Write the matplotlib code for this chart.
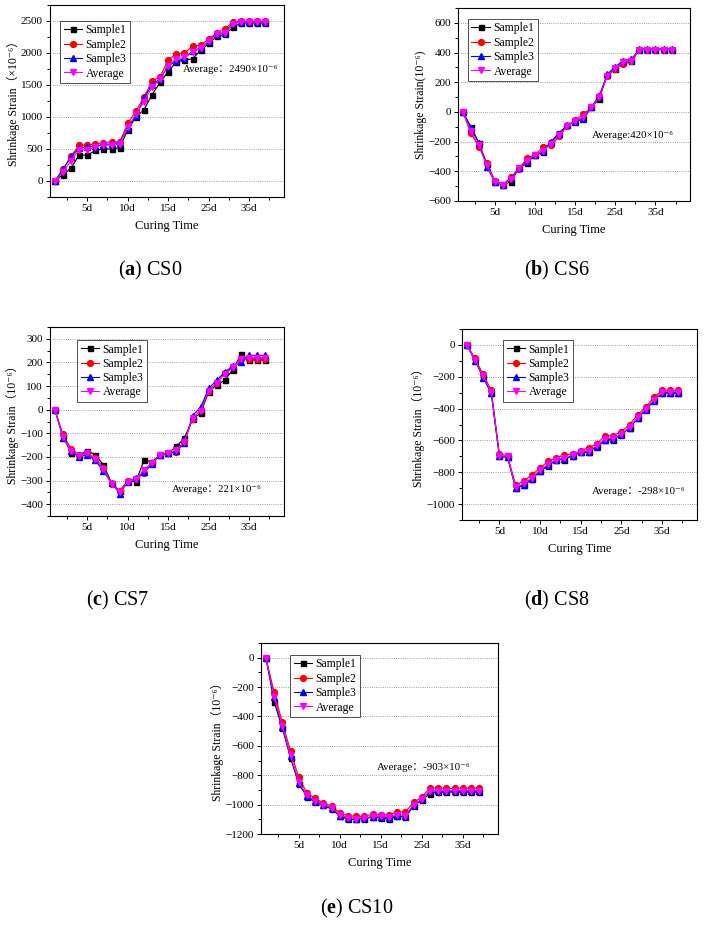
import numpy as np
import matplotlib.pyplot as plt
from matplotlib.ticker import MultipleLocator

plt.rcParams['font.family'] = ['Liberation Serif', 'Noto Sans CJK SC', 'DejaVu Sans']
plt.rcParams['mathtext.fontset'] = 'custom'
plt.rcParams['mathtext.rm'] = 'Liberation Serif'
plt.rcParams['mathtext.bf'] = 'Liberation Serif:bold'

#########################################################
# data (index 1..27 along curing time)
#########################################################
days = np.arange(1, 28)
tick_pos = [5, 10, 15, 20, 25]
tick_lab = ["5d", "10d", "15d", "25d", "35d"]

cs0_s1 = [0, 100, 200, 410, 400, 480, 500, 500, 520, 800, 1000, 1110, 1350, 1540, 1710, 1860, 1890, 1910, 2040, 2150, 2260, 2290, 2400, 2470, 2470, 2470, 2470]
cs0_s2 = [0, 180, 390, 560, 560, 580, 600, 610, 610, 900, 1090, 1310, 1560, 1630, 1890, 1990, 2000, 2110, 2120, 2220, 2310, 2380, 2480, 2500, 2500, 2500, 2500]
cs0_s3 = [0, 180, 380, 510, 530, 540, 570, 580, 600, 830, 1010, 1290, 1500, 1600, 1800, 1870, 1920, 2030, 2080, 2190, 2300, 2320, 2470, 2490, 2490, 2490, 2490]
cs0_av = [0, 140, 320, 490, 480, 530, 560, 560, 580, 840, 1040, 1240, 1470, 1590, 1800, 1910, 1930, 2010, 2080, 2190, 2290, 2310, 2450, 2490, 2490, 2490, 2490]

cs6_s1 = [0, -100, -210, -350, -470, -490, -470, -380, -345, -290, -270, -200, -140, -90, -60, -40, 30, 90, 250, 290, 340, 340, 420, 420, 420, 420, 420]
cs6_s2 = [0, -145, -235, -345, -465, -490, -440, -385, -310, -290, -235, -225, -165, -95, -55, -15, 30, 110, 240, 290, 320, 340, 420, 420, 420, 420, 420]
cs6_s3 = [0, -105, -210, -370, -475, -490, -445, -375, -330, -290, -260, -200, -150, -90, -65, -50, 30, 110, 255, 305, 345, 355, 425, 425, 425, 425, 425]
cs6_av = [0, -130, -225, -360, -470, -490, -450, -380, -330, -290, -260, -215, -155, -95, -60, -35, 30, 100, 245, 295, 335, 345, 420, 420, 420, 420, 420]

cs7_s1 = [0, -110, -185, -190, -175, -190, -235, -310, -345, -300, -305, -215, -220, -190, -185, -155, -120, -40, -15, 75, 105, 125, 170, 235, 210, 210, 210]
cs7_s2 = [0, -105, -165, -190, -185, -205, -245, -315, -345, -300, -295, -270, -225, -190, -185, -180, -135, -40, 0, 80, 115, 155, 180, 215, 215, 215, 215]
cs7_s3 = [0, -120, -175, -200, -190, -215, -260, -310, -355, -305, -290, -265, -230, -190, -185, -175, -140, -25, 10, 90, 125, 160, 185, 200, 230, 230, 230]
cs7_av = [0, -115, -175, -195, -185, -210, -250, -315, -350, -305, -295, -255, -225, -190, -185, -170, -135, -35, -5, 80, 115, 150, 180, 215, 220, 220, 220]

cs8_s1 = [0, -90, -200, -300, -700, -705, -900, -880, -840, -790, -760, -720, -720, -695, -675, -675, -635, -600, -595, -560, -520, -460, -405, -345, -300, -300, -300]
cs8_s2 = [0, -85, -185, -285, -685, -695, -880, -855, -815, -775, -730, -710, -690, -685, -665, -645, -620, -570, -570, -545, -500, -440, -390, -330, -285, -285, -285]
cs8_s3 = [0, -100, -205, -305, -700, -705, -900, -880, -845, -795, -755, -725, -715, -695, -675, -670, -640, -595, -590, -565, -520, -460, -410, -350, -300, -305, -305]
cs8_av = [0, -95, -195, -295, -695, -700, -895, -870, -835, -785, -750, -720, -710, -690, -670, -665, -630, -590, -585, -560, -515, -455, -400, -345, -295, -295, -295]

cs10_s1 = [0, -300, -480, -680, -860, -945, -985, -1005, -1030, -1075, -1100, -1100, -1095, -1085, -1090, -1100, -1080, -1085, -1010, -970, -925, -915, -915, -915, -915, -915, -915]
cs10_s2 = [0, -235, -440, -635, -815, -920, -955, -990, -1010, -1055, -1075, -1080, -1080, -1065, -1070, -1070, -1050, -1050, -985, -950, -885, -890, -890, -890, -890, -890, -890]
cs10_s3 = [0, -270, -470, -670, -850, -940, -975, -1000, -1025, -1075, -1090, -1095, -1090, -1085, -1085, -1090, -1075, -1080, -1005, -965, -905, -910, -910, -910, -910, -910, -910]
cs10_av = [0, -265, -465, -665, -845, -935, -975, -1000, -1020, -1070, -1090, -1095, -1090, -1080, -1080, -1085, -1070, -1075, -1000, -965, -905, -905, -905, -905, -905, -905, -905]

W, H = 705, 931


def rect(l, t, r, b):
    return [l / W, 1 - b / H, (r - l) / W, (b - t) / H]


def panel(box, series, ylim, ymaj, ymin, ylabel, note, note_xy, leg_xy, caption, cap_xy):
    ax = fig.add_axes(rect(*box))
    ax.plot(days, series[0], "-s", color="black", ms=3.6, lw=0.8, label="Sample1")
    ax.plot(days, series[1], "-o", color="red", ms=4.2, lw=0.8, label="Sample2")
    ax.plot(days, series[2], "-^", color="blue", ms=4.2, lw=0.8, label="Sample3")
    ax.plot(days, series[3], "-v", color="magenta", ms=4.2, lw=0.8, label="Average")
    ax.set_xlim(0.4, 29.3)
    ax.set_ylim(*ylim)
    ax.set_xticks(tick_pos)
    ax.set_xticklabels(tick_lab)
    ax.xaxis.set_minor_locator(MultipleLocator(2.5))
    ax.yaxis.set_major_locator(MultipleLocator(ymaj))
    ax.yaxis.set_minor_locator(MultipleLocator(ymin))
    ax.tick_params(which="both", direction="out", labelsize=8, width=0.7, pad=2)
    ax.tick_params(which="major", length=3)
    ax.tick_params(which="minor", length=2)
    ax.grid(True, axis="y", ls=":", color="grey", lw=0.6)
    for s in ax.spines.values():
        s.set_linewidth(0.8)
    ax.set_xlabel("Curing Time", fontsize=9, labelpad=5)
    ax.set_ylabel(ylabel, fontsize=8.5, labelpad=1)
    fig.text(note_xy[0] / W, 1 - note_xy[1] / H, note, fontsize=7.8, va="center")
    leg = ax.legend(loc="upper left", bbox_to_anchor=(leg_xy[0] / W, 1 - leg_xy[1] / H),
                    bbox_transform=fig.transFigure, fontsize=8.4, frameon=True, fancybox=False,
                    handlelength=1.6, handletextpad=0.3, borderpad=0.3, labelspacing=0.2,
                    borderaxespad=0)
    leg.get_frame().set_edgecolor("black")
    leg.get_frame().set_linewidth(0.6)
    fig.text(cap_xy[0] / W, 1 - cap_xy[1] / H, caption, fontsize=14.5, ha="center", va="center")
    return ax


fig = plt.figure(figsize=(W / 100, H / 100), dpi=100)

panel((50, 5, 284, 197), [cs0_s1, cs0_s2, cs0_s3, cs0_av], (-250, 2750), 500, 250,
      "Shrinkage Strain（×10⁻⁶）", "Average：2490×10⁻⁶", (183, 70),
      (60, 21), r"($\mathbf{a}$) CS0", (150, 270))
panel((458, 8, 690, 201), [cs6_s1, cs6_s2, cs6_s3, cs6_av], (-600, 700), 200, 100,
      "Shrinkage Strain(10⁻⁶)", "Average:420×10⁻⁶", (592, 135),
      (468, 19), r"($\mathbf{b}$) CS6", (557, 270))
panel((50, 327, 284, 516), [cs7_s1, cs7_s2, cs7_s3, cs7_av], (-450, 350), 100, 50,
      "Shrinkage Strain（10⁻⁶）", "Average：221×10⁻⁶", (172, 490),
      (77, 340), r"($\mathbf{c}$) CS7", (118, 600))
panel((462, 329, 697, 520), [cs8_s1, cs8_s2, cs8_s3, cs8_av], (-1100, 100), 200, 100,
      "Shrinkage Strain（10⁻⁶）", "Average：-298×10⁻⁶", (592, 492),
      (503, 340), r"($\mathbf{d}$) CS8", (557, 600))
panel((261, 643, 498, 834), [cs10_s1, cs10_s2, cs10_s3, cs10_av], (-1200, 100), 200, 100,
      "Shrinkage Strain（10⁻⁶）", "Average：-903×10⁻⁶", (377, 767),
      (290, 655), r"($\mathbf{e}$) CS10", (357, 908))

plt.savefig("out.png", dpi=100)
